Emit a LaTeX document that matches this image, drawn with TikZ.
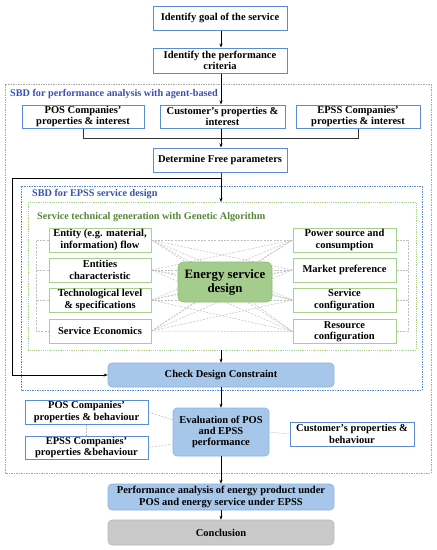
\documentclass[tikz,border=0pt]{standalone}
\usepackage{fontspec}
\setmainfont{Liberation Serif}
\usetikzlibrary{arrows.meta}
\definecolor{bblue}{HTML}{5B8BD6}
\definecolor{fblue}{HTML}{A6C6EA}
\definecolor{fbluedraw}{HTML}{8DB2DE}
\definecolor{bgreen}{HTML}{A9D18E}
\definecolor{fgreen}{HTML}{A4CD8D}
\definecolor{fgreendraw}{HTML}{8CBB74}
\definecolor{fgray}{HTML}{C9C9C9}
\definecolor{lblue}{HTML}{3A4FB0}
\definecolor{lgreen}{HTML}{55863A}
\tikzset{
  txt/.style={font=\bfseries\fontsize{10.5}{11.2}\selectfont, align=center, inner sep=1pt},
  bluebox/.style={txt, draw=bblue, line width=1pt, fill=white},
  greenbox/.style={txt, draw=bgreen, line width=1pt, fill=white},
  bluefill/.style={txt, draw=fbluedraw, line width=0.6pt, fill=fblue, rounded corners=4pt},
  greenfill/.style={txt, draw=fgreendraw, line width=0.6pt, fill=fgreen, rounded corners=6pt, font=\bfseries\fontsize{12.8}{14}\selectfont},
  grayfill/.style={txt, draw=gray!55, line width=0.6pt, fill=fgray, rounded corners=4pt},
  arr/.style={-{Stealth[length=4pt,width=3pt]}, line width=0.6pt, black},
  ln/.style={line width=0.6pt, black!80},
  dl/.style={gray!50, line width=0.5pt, dash pattern=on 2pt off 1.3pt},
  lab/.style={font=\bfseries\fontsize{10.2}{12}\selectfont, anchor=west, inner sep=0pt}
}
\begin{document}
\begin{tikzpicture}[x=1pt,y=-1pt]
\useasboundingbox (0,0) rectangle (437,550);
% containers
\draw[gray!70, line width=0.8pt, dash pattern=on 1.5pt off 1pt] (5,84) rectangle (431,473);
\draw[bblue, line width=0.8pt, dash pattern=on 1.5pt off 1pt] (21,186) rectangle (422,390);
\draw[bgreen, line width=0.8pt, dash pattern=on 1.2pt off 1pt] (28,202) rectangle (416,350);
\node[lab, text=lblue] (lab1) at (10,94) {SBD for performance analysis with agent-based};
\node[lab, text=lblue] (lab2) at (32,194) {SBD for EPSS service design};
\node[lab, text=lgreen] (lab3) at (37,217) {Service technical generation with Genetic Algorithm};
\coordinate (gatop) at (221,202);
\coordinate (gabot) at (221,350);
\coordinate (bus) at (221,138);

% top chain
\node[bluebox, minimum width=134pt, minimum height=24pt] (goal) at (220,18) {Identify goal of the service};
\node[bluebox, minimum width=134pt, minimum height=25pt] (crit) at (220,60.5) {Identify the performance\\criteria};
\node[bluebox, minimum width=122pt, minimum height=23pt] (pos1) at (83,116.5) {POS Companies'\\properties \& interest};
\node[bluebox, minimum width=125pt, minimum height=23pt] (cust1) at (222.5,116.5) {Customer's properties \&\\interest};
\node[bluebox, minimum width=124pt, minimum height=23pt] (epss1) at (358,116.5) {EPSS Companies'\\properties \& interest};
\node[bluebox, minimum width=134pt, minimum height=24pt] (det) at (220,160) {Determine Free parameters};

\draw[arr] (goal.south -| bus) -- (crit.north -| bus);
\draw[arr] (crit.south -| bus) -- (cust1.north -| bus);
\draw[ln] (pos1.south) -- (pos1.south |- bus) -- (epss1.south |- bus) -- (epss1.south);
\draw[arr] (cust1.south -| bus) -- (det.north -| bus);

% middle nodes
\node[greenbox, minimum width=102pt, minimum height=24pt] (l1) at (100,240) {Entity (e.g. material,\\information) flow};
\node[greenbox, minimum width=102pt, minimum height=24pt] (l2) at (100,270) {Entities\\characteristic};
\node[greenbox, minimum width=102pt, minimum height=24pt] (l3) at (100,300) {Technological level\\\& specifications};
\node[greenbox, minimum width=102pt, minimum height=24pt] (l4) at (100,331) {Service Economics};
\node[greenbox, minimum width=103pt, minimum height=24pt] (r1) at (344.5,240) {Power source and\\consumption};
\node[greenbox, minimum width=103pt, minimum height=24pt] (r2) at (344.5,270) {Market preference};
\node[greenbox, minimum width=103pt, minimum height=24pt] (r3) at (344.5,300) {Service\\configuration};
\node[greenbox, minimum width=103pt, minimum height=24pt] (r4) at (344.5,331.5) {Resource\\configuration};

\coordinate (ctr) at (225,282);
\foreach \a in {1,2,3,4}{
  \foreach \b in {1,2,3,4}{
    \draw[dl] (l\a.east) -- (r\b.west);
  }
  \draw[dl] (l\a.east) -- (ctr);
  \draw[dl] (ctr) -- (r\a.west);
}
\node[greenfill, minimum width=94pt, minimum height=40pt] (esd) at (ctr) {Energy service\\design};

% side braces
\coordinate (lb) at (36,0);
\coordinate (rb) at (408,0);
\draw[dl] (l1.west) -- (l1.west -| lb) -- (l4.west -| lb) -- (l4.west);
\draw[dl] (l2.west) -- (l2.west -| lb);
\draw[dl] (l3.west) -- (l3.west -| lb);
\draw[dl] (r1.east) -- (r1.east -| rb) -- (r4.east -| rb) -- (r4.east);
\draw[dl] (r2.east) -- (r2.east -| rb);
\draw[dl] (r3.east) -- (r3.east -| rb);

% check / evaluation
\node[bluefill, minimum width=226pt, minimum height=24pt] (check) at (221,375) {Check Design Constraint};
\coordinate (t1) at (221,178);
\coordinate (t2) at (12,178);
\draw[ln] (det.south -| t1) -- (t1);
\draw[arr] (t1) -- (gatop);
\draw[arr] (t1) -- (t2) -- (t2 |- check.west) -- (check.west);
\draw[arr] (gabot) -- (check.north -| gabot);

\node[bluefill, minimum width=96pt, minimum height=48pt] (eval) at (221,432) {Evaluation of POS\\and EPSS\\performance};
\node[bluebox, minimum width=123pt, minimum height=24pt] (pos2) at (86.5,412) {POS Companies'\\properties \& behaviour};
\node[bluebox, minimum width=123pt, minimum height=23pt] (epss2) at (86.5,447.5) {EPSS Companies'\\properties \&behaviour};
\node[bluebox, minimum width=124pt, minimum height=24pt] (cust2) at (352,434) {Customer's properties \&\\behaviour};
\draw[arr] (check.south -| gabot) -- (eval.north -| gabot);
\draw[dl] (pos2.east) -- (eval.west |- 0,420);
\draw[dl] (epss2.east) -- (eval.west |- 0,444);
\draw[dl] (pos2.south) -- (epss2.north);
\draw[dl] (cust2.west) -- (eval.east);

% bottom
\node[bluefill, minimum width=226pt, minimum height=26pt] (perf) at (221,497) {Performance analysis of energy product under\\POS and energy service under EPSS};
\node[grayfill, minimum width=226pt, minimum height=25pt] (concl) at (221,532.5) {Conclusion};
\draw[arr] (eval.south -| gabot) -- (perf.north -| gabot);
\draw[arr] (perf.south -| gabot) -- (concl.north -| gabot);
\end{tikzpicture}
\end{document}
